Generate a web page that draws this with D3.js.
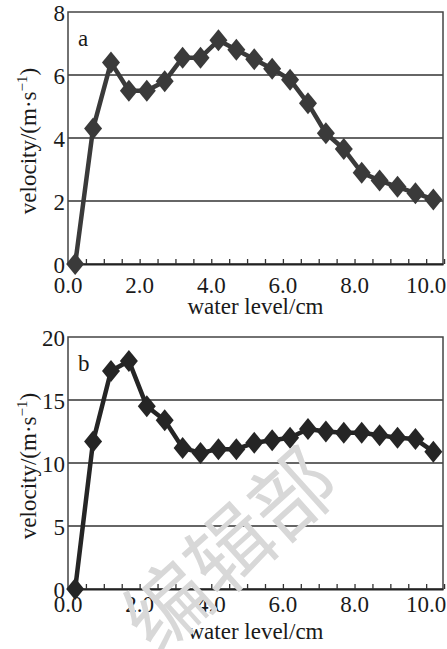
<!DOCTYPE html>
<html lang="en">
<head>
    <meta charset="UTF-8">
    <title>velocity vs water level</title>
    <script src="https://cdn.jsdelivr.net/npm/d3@7/dist/d3.min.js"></script>
    <style>
        body { margin: 0; background: #fff; }
        svg text { font-family: "Liberation Serif", "Times New Roman", serif; fill: #1a1a1a; }
    </style>
</head>
<body>
<svg id="chart" width="447" height="649"></svg>
<script>
    // water level (cm) for each measurement
    const waterLevel = [0.2, 0.7, 1.2, 1.7, 2.2, 2.7, 3.2, 3.7, 4.2, 4.7, 5.2,
        5.7, 6.2, 6.7, 7.2, 7.7, 8.2, 8.7, 9.2, 9.7, 10.2];

    // velocity (m/s), panel a
    const velocityA = [0, 4.3, 6.4, 5.5, 5.5, 5.8, 6.55, 6.55, 7.1, 6.8, 6.5,
        6.2, 5.85, 5.1, 4.15, 3.65, 2.9, 2.65, 2.45, 2.25, 2.05];

    // velocity (m/s), panel b
    const velocityB = [0, 11.7, 17.3, 18.1, 14.5, 13.4, 11.2, 10.8, 11.1, 11.1, 11.6,
        11.8, 12.0, 12.7, 12.5, 12.4, 12.4, 12.2, 12.0, 11.9, 10.9];

    const xTickLabels = [0, 2, 4, 6, 8, 10];
    const xMinorTicks = [0.5, 1, 1.5, 2, 2.5, 3, 3.5, 4, 4.5, 5, 5.5, 6, 6.5, 7, 7.5, 8, 8.5, 9, 9.5, 10, 10.5];
    const yTicksA = [0, 2, 4, 6, 8];
    const yTicksB = [0, 5, 10, 15, 20];

    const svg = d3.select("#chart");

    function drawPanel(opts) {
        const { top, bottom, yMax, yTicks, values, label, color, xLabelGap } = opts;
        const left = 68, right = 443;

        const x = d3.scaleLinear().domain([0, 10.47]).range([left, right]);
        const y = d3.scaleLinear().domain([0, yMax]).range([bottom, top]);

        const g = svg.append("g");

        // horizontal grid lines
        g.selectAll(".grid")
            .data(yTicks.filter(d => d > 0 && d < yMax))
            .enter().append("line")
            .attr("x1", left).attr("x2", right)
            .attr("y1", d => y(d)).attr("y2", d => y(d))
            .attr("stroke", "#333").attr("stroke-width", 1.6);

        // frame
        g.append("rect")
            .attr("x", left).attr("y", top)
            .attr("width", right - left).attr("height", bottom - top)
            .attr("fill", "none").attr("stroke", "#444").attr("stroke-width", 1.5);

        // bottom axis: inward ticks every 0.5 cm, labels every 2 cm
        const xAxis = d3.axisBottom(x)
            .tickValues(xMinorTicks)
            .tickSizeInner(-5)
            .tickSizeOuter(0)
            .tickFormat("");
        const ax = g.append("g")
            .attr("transform", `translate(0,${bottom})`)
            .call(xAxis);
        ax.select(".domain").attr("stroke", "#222").attr("stroke-width", 2.2);
        ax.selectAll(".tick line").attr("stroke", "#333").attr("stroke-width", 1.3);

        g.selectAll(".xlab")
            .data(xTickLabels)
            .enter().append("text")
            .attr("x", d => x(d))
            .attr("y", bottom + xLabelGap)
            .attr("text-anchor", "middle")
            .attr("font-size", 23)
            .text(d => d3.format(".1f")(d));

        g.append("text")
            .attr("x", (left + right) / 2)
            .attr("y", bottom + 50)
            .attr("text-anchor", "middle")
            .attr("font-size", 23)
            .text("water level/cm");

        // y labels
        g.selectAll(".ylab")
            .data(yTicks)
            .enter().append("text")
            .attr("x", 65)
            .attr("y", d => y(d) + 9)
            .attr("text-anchor", "end")
            .attr("font-size", 23)
            .text(d => d);

        const yt = g.append("text")
            .attr("transform", `translate(36,${(top + bottom) / 2 + 3}) rotate(-90)`)
            .attr("text-anchor", "middle")
            .attr("font-size", 23);
        yt.append("tspan").text("velocity/(m\u00b7s");
        yt.append("tspan").attr("font-size", 15).attr("dy", -9).text("\u22121");
        yt.append("tspan").attr("dy", 9).text(")");

        g.append("text")
            .attr("x", 78).attr("y", top + 34)
            .attr("font-size", 23)
            .text(label);

        // series line
        const pts = waterLevel.map((w, i) => [w, values[i]]);
        g.append("path")
            .datum(pts)
            .attr("fill", "none")
            .attr("stroke", color)
            .attr("stroke-width", 4.5)
            .attr("stroke-linejoin", "round")
            .attr("d", d3.line().x(d => x(d[0])).y(d => y(d[1])));

        // diamond markers
        g.selectAll(".mark")
            .data(pts)
            .enter().append("path")
            .attr("d", "M0,-11L9,0L0,11L-9,0Z")
            .attr("transform", d => `translate(${x(d[0])},${y(d[1])})`)
            .attr("fill", color);
    }

    drawPanel({ top: 12, bottom: 264, yMax: 8, yTicks: yTicksA, values: velocityA,
        label: "a", color: "#3a3a3a", xLabelGap: 29 });
    drawPanel({ top: 337, bottom: 589, yMax: 20, yTicks: yTicksB, values: velocityB,
        label: "b", color: "#252525", xLabelGap: 23 });

    // watermark
    svg.append("text")
        .attr("transform", "translate(226,546) rotate(-42)")
        .attr("text-anchor", "middle")
        .attr("dominant-baseline", "central")
        .style("font-family", "'Noto Sans CJK SC', sans-serif")
        .style("fill", "#d8d8d8")
        .attr("font-size", 84)
        .text("编辑部");
</script>
</body>
</html>
